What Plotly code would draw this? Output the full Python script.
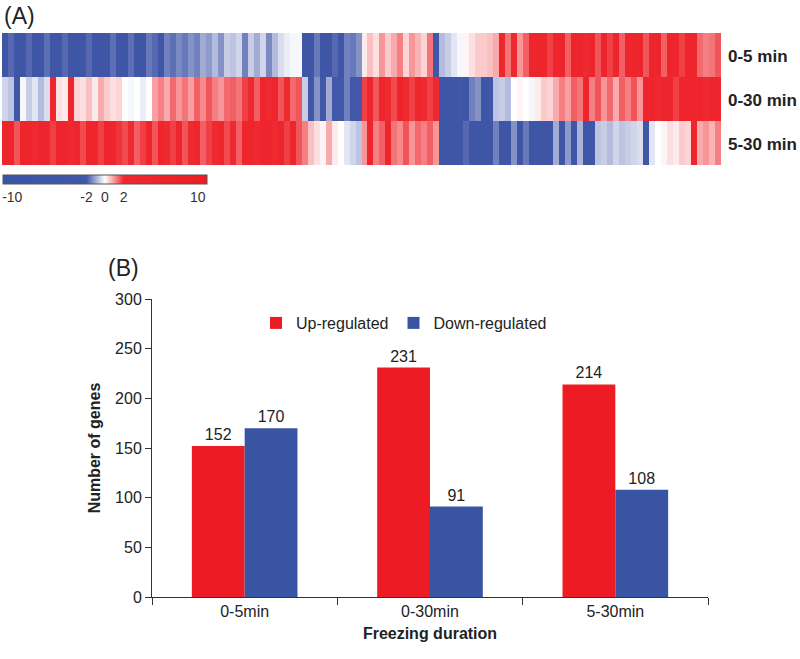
import plotly.graph_objects as go

# ---------------- data ----------------
row_labels = ["0-5 min", "0-30 min", "5-30 min"]

# heatmap values (log2 fold change, read approx. as ~120 stripe columns)
r_0_5 = [-5,-1.8,-5,-5,-1.8,-5,-5,-1.7,-5,-5,
         -1.8,-5,-5,-5,-1.8,-5,-5,-5,-1.7,-5,
         -5,-1.7,-5,-5,-1.6,-1.8,-5,-1.5,-1.7,-1.4,
         -1.6,-1.3,-1.5,-1.0,-1.2,-0.8,-1.3,-0.6,-0.7,-0.5,
         -1.5,-0.6,-1.0,-0.5,-1.4,-0.8,-0.4,-0.2,-0.1,-0.1,
         -5,-5,-1.6,-5,-5,-1.8,-5,-1.5,-1.6,-1.3,
         0.2,0.6,0.3,1.0,0.5,0.8,1.2,0.4,1.0,0.7,
         0.4,1.3,-3,-0.8,-0.6,-0.3,-0.1,0.1,0.3,0.5,
         0.5,0.6,0.8,4,1.3,3,1.0,1.5,5,5,
         5,1.8,5,5,1.5,5,5,2.5,5,1.6,
         5,1.8,5,1.5,5,5,5,1.6,5,5,
         1.5,5,5,1.8,5,5,1.4,1.2,1.3,1.6]
r_0_30 = [-0.5,-0.7,-4,-0.1,-0.6,-0.3,-0.8,-0.4,5,0.3,
          0.2,5,0.4,0.3,0.6,0.2,0.8,0.5,0.3,0.4,
          0.0,-0.1,0.0,-0.2,0.0,0.9,1.2,0.8,1.4,1.0,
          1.3,0.9,1.5,1.1,1.6,1.2,1.0,1.4,1.5,1.3,
          1.8,3,1.5,5,2,5,1.6,2.5,1.4,1.6,
          -0.6,-2.5,-1.3,-2.5,-1.0,-2.5,-2.5,-1.5,-2.5,-2.5,
          1.8,5,1.6,5,2.5,1.7,6,2,1.8,5,
          2,1.8,3,-5,-5,-5,-2.5,-5,-1.5,-1.3,
          -5,-4,-0.7,-0.6,-0.8,0.0,0.1,0.0,-0.1,0.2,
          0.5,0.4,0.8,1.2,0.9,1.5,1.3,5,1.2,1.6,
          1.0,1.4,0.8,1.5,1.2,1.6,1.0,5,5,2,
          5,5,1.8,5,5,5,5,2.5,5,5]
r_5_30 = [5,5,1.6,5,5,2,5,5,1.8,5,
          5,2.2,5,1.7,5,5,1.8,5,5,1.9,
          1.7,2,1.5,1.8,5,1.6,5,2,1.8,5,
          1.6,2,5,1.5,1.8,2,5,1.7,2,1.5,
          5,5,2,5,5,2.2,5,1.8,5,1.6,
          1.2,0.6,0.3,0.1,0.8,0.2,0.0,-0.3,-0.5,-0.7,
          1.0,5,1.2,1.5,5,1.3,1.1,1.6,1.0,1.4,
          1.2,1.5,1.0,-5,-5,-5,-5,-1.8,-5,-5,
          -5,-5,-1.5,-5,-5,-1.3,-5,-1.6,-5,-5,
          -5,-5,-1.0,-5,-1.2,-5,-0.9,-5,-4,-0.7,
          -0.6,-0.8,-0.5,-0.7,-0.6,-0.5,-0.4,-5,-0.3,0.0,
          0.1,0.3,0.2,0.5,0.4,5,0.8,1.0,0.7,1.2]
cbar_ticks = [-10, -2, 0, 2, 10]

durations = ["0-5min", "0-30min", "5-30min"]
up_regulated = [152, 231, 214]
down_regulated = [170, 91, 108]

# ---------------- styling ----------------
RED = "#ed1c24"
BLUE = "#3a54a4"
FONT = "Liberation Sans, Arial, sans-serif"
W, H = 800, 659

def px_x(p):
    return p / W

def px_y(p):
    return 1 - p / H

zlo, zhi = -11, 11
def pos(v):
    return (v - zlo) / (zhi - zlo)

colorscale = [
    [0.0, BLUE],
    [pos(-2), "#4257a8"],
    [pos(0), "#ffffff"],
    [pos(2), "#ee2a30"],
    [1.0, RED],
]

fig = go.Figure()

z = [r_0_5, r_0_30, r_5_30]
fig.add_trace(go.Heatmap(
    z=z,
    x=list(range(len(r_0_5))),
    y=row_labels,
    zmin=zlo, zmax=zhi,
    colorscale=colorscale,
    xaxis="x2", yaxis="y2",
    showscale=True,
    colorbar=dict(
        orientation="h",
        x=px_x(105), xanchor="center",
        y=px_y(175), yanchor="top",
        len=204 / W, lenmode="fraction",
        thickness=9, thicknessmode="pixels",
        xpad=0, ypad=0,
        outlinewidth=1, outlinecolor="#555555",
        tickvals=cbar_ticks,
        ticktext=[str(t) for t in cbar_ticks],
        ticks="",
        tickfont=dict(family=FONT, size=14, color="#333333"),
    ),
    hoverinfo="skip",
))

fig.add_trace(go.Bar(
    x=durations, y=up_regulated, name="Up-regulated",
    marker=dict(color=RED, line=dict(width=0)),
    text=up_regulated, texttemplate="%{y}", textposition="outside",
    textfont=dict(family=FONT, size=16, color="#222222"),
    cliponaxis=False,
))
fig.add_trace(go.Bar(
    x=durations, y=down_regulated, name="Down-regulated",
    marker=dict(color=BLUE, line=dict(width=0)),
    text=down_regulated, texttemplate="%{y}", textposition="outside",
    textfont=dict(family=FONT, size=16, color="#222222"),
    cliponaxis=False,
))

annotations = [
    dict(text="(A)", x=px_x(2), y=px_y(16), xref="paper", yref="paper",
         xanchor="left", yanchor="middle", showarrow=False,
         font=dict(family=FONT, size=23, color="#222222")),
    dict(text="(B)", x=px_x(106), y=px_y(268), xref="paper", yref="paper",
         xanchor="left", yanchor="middle", showarrow=False,
         font=dict(family=FONT, size=23, color="#222222")),
]
for lab, yc in zip(row_labels, [56, 100, 144]):
    annotations.append(dict(
        text=f"<b>{lab}</b>", x=px_x(726), y=px_y(yc), xref="paper", yref="paper",
        xanchor="left", yanchor="middle", showarrow=False,
        font=dict(family=FONT, size=17, color="#222222")))

fig.update_layout(
    width=W, height=H,
    margin=dict(l=0, r=0, t=0, b=0, autoexpand=False),
    paper_bgcolor="white", plot_bgcolor="white",
    font=dict(family=FONT, color="#222222"),
    barmode="group", bargap=0.43, bargroupgap=0,
    showlegend=True,
    legend=dict(
        orientation="h", x=px_x(256), xanchor="left",
        y=px_y(306), yanchor="top",
        font=dict(family=FONT, size=16, color="#222222"),
        bgcolor="rgba(0,0,0,0)", itemwidth=30,
    ),
    xaxis=dict(
        domain=[px_x(152), px_x(708)], anchor="y",
        showline=True, linecolor="#333333", linewidth=1,
        ticks="outside", tickson="boundaries", ticklen=7, tickcolor="#333333",
        tickfont=dict(family=FONT, size=16, color="#222222"),
        title=dict(text="<b>Freezing duration</b>", standoff=8,
                   font=dict(family=FONT, size=16, color="#222222")),
        showgrid=False, zeroline=False, automargin=False,
    ),
    yaxis=dict(
        domain=[px_y(597), px_y(299)], anchor="x",
        range=[0, 300], dtick=50,
        showline=True, linecolor="#333333", linewidth=1,
        ticks="outside", ticklen=6, tickcolor="#333333",
        tickfont=dict(family=FONT, size=16, color="#222222"),
        title=dict(text="<b>Number of genes</b>", standoff=10,
                   font=dict(family=FONT, size=16, color="#222222")),
        showgrid=False, zeroline=False, automargin=False,
    ),
    xaxis2=dict(domain=[px_x(2), px_x(721)], anchor="y2", visible=False,
                range=[-0.5, len(r_0_5) - 0.5]),
    yaxis2=dict(domain=[px_y(165), px_y(33)], anchor="x2", visible=False,
                autorange="reversed"),
    annotations=annotations,
)

fig.write_html("out.html",
               config={"displayModeBar": False},
               post_script="document.body.style.margin='0';document.body.style.padding='0';")
